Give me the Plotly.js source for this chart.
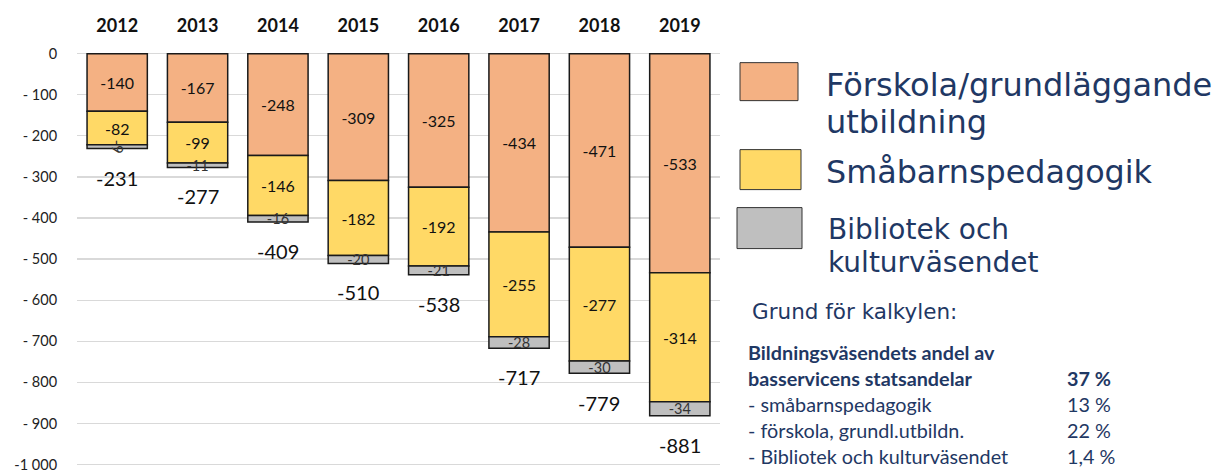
<!DOCTYPE html>
<html>
<head>
<meta charset="utf-8">
<script src="https://cdn.plot.ly/plotly-3.0.1.min.js"></script>
<style>html,body{margin:0;padding:0;background:#fff;}#chart{width:1218px;height:472px;}</style>
</head>
<body>
<div id="chart"></div>
<script>
const years = ['2012','2013','2014','2015','2016','2017','2018','2019'];
const seriesNames = ['Förskola/grundläggande<br>utbildning', 'Småbarnspedagogik', 'Bibliotek och<br>kulturväsendet'];
const forskola = [-140, -167, -248, -309, -325, -434, -471, -533];
const smabarn = [-82, -99, -146, -182, -192, -255, -277, -314];
const bibliotek = [-9, -11, -16, -20, -21, -28, -30, -34];
const totals = [-231, -277, -409, -510, -538, -717, -779, -881];
const yTickVals = [0, -100, -200, -300, -400, -500, -600, -700, -800, -900, -1000];
const yTickText = ['0', '- 100', '- 200', '- 300', '- 400', '- 500', '- 600', '- 700', '- 800', '- 900', '-1 000'];
const noteTitle = 'Grund för kalkylen:';
const noteRows = [
  ['<b>Bildningsväsendets andel av</b>', ''],
  ['<b>basservicens statsandelar</b>', '<b>37 %</b>'],
  ['- småbarnspedagogik', '13 %'],
  ['- förskola, grundl.utbildn.', '22 %'],
  ['- Bibliotek och kulturväsendet', '1,4 %']
];

const colors = ['#F4B183', '#FFD966', '#BFBFBF'];
const W = 1218, H = 472;
// pixel geometry: value 0 at y=54, value -1000 at y=465
const L = 77, R = 720;
const Y0 = 54, Y1000 = 465;
const pxPerUnit = (Y1000 - Y0) / 1000;
const yMin = -1006, yMax = 4;
const T = Y0 - yMax * pxPerUnit;
const B = Y1000 + (-1000 - yMin) * pxPerUnit;
const px = x => (x - L) / (R - L);
const py = y => (B - y) / (B - T);
const navy = '#1F3864';
const baseFont = 'Lato, "Open Sans", sans-serif';
const legendFont = '"DejaVu Sans", Verdana, sans-serif';

const seriesVals = [forskola, smabarn, bibliotek];
const traces = seriesVals.map((vals, i) => ({
  type: 'bar',
  x: years,
  y: vals,
  name: seriesNames[i].replace('<br>', ' '),
  marker: {color: colors[i], line: {color: '#1a1a1a', width: 1.5}},
  text: vals.map(v => String(v)),
  textposition: 'inside',
  insidetextanchor: 'middle',
  constraintext: 'none',
  textfont: {family: baseFont, size: i === 2 ? 14.5 : 16, color: i === 2 ? '#333' : '#111'},
  hoverinfo: 'x+y+name',
  showlegend: false,
  cliponaxis: false
}));

const annotations = [];
// totals below bars (x as category index)
years.forEach((yr, i) => {
  annotations.push({
    x: i, y: totals[i], xref: 'x', yref: 'y',
    text: String(totals[i]), showarrow: false,
    yanchor: 'middle', yshift: -29,
    font: {family: baseFont, size: 20, color: '#111'}
  });
});

// custom legend
const shapes = [];
const legendBoxes = [[740, 63, 798, 101], [740, 150, 801, 190], [737, 208, 802, 249]];
const legendLines = [[[826, 85], [826, 122]], [[826, 172]], [[828, 230], [828, 263]]];
const legendSizes = [32, 31.8, 28];
seriesNames.forEach((n, i) => {
  const b = legendBoxes[i];
  shapes.push({
    type: 'rect', xref: 'paper', yref: 'paper',
    x0: px(b[0]), x1: px(b[2]), y0: py(b[3]), y1: py(b[1]),
    fillcolor: colors[i], line: {color: '#333', width: 1}
  });
  n.split('<br>').forEach((part, k) => {
    const t = legendLines[i][k];
    annotations.push({
      xref: 'paper', yref: 'paper', x: px(t[0] - 2), y: py(t[1]),
      xanchor: 'left', yanchor: 'middle', align: 'left',
      text: part, showarrow: false,
      font: {family: legendFont, size: legendSizes[i], color: navy}
    });
  });
});

// note box
annotations.push({
  xref: 'paper', yref: 'paper', x: px(750), y: py(312),
  xanchor: 'left', yanchor: 'middle', text: noteTitle, showarrow: false,
  font: {family: legendFont, size: 21.5, color: navy}
});
noteRows.forEach((r, i) => {
  const yy = 352 + i * 26;
  annotations.push({
    xref: 'paper', yref: 'paper', x: px(746), y: py(yy),
    xanchor: 'left', yanchor: 'middle', text: r[0], showarrow: false,
    font: {family: baseFont, size: 19.8, color: navy}
  });
  if (r[1]) annotations.push({
    xref: 'paper', yref: 'paper', x: px(1065), y: py(yy),
    xanchor: 'left', yanchor: 'middle', text: r[1], showarrow: false,
    font: {family: baseFont, size: 19.8, color: navy}
  });
});

const layout = {
  width: W, height: H,
  margin: {l: L, r: W - R, t: T, b: H - B, pad: 0},
  barmode: 'relative',
  bargap: 0.25,
  paper_bgcolor: '#fff', plot_bgcolor: '#fff',
  showlegend: false,
  xaxis: {
    side: 'top', type: 'category', range: [-0.5, 7.5],
    tickfont: {family: baseFont, size: 18, color: '#111', weight: 'bold'},
    ticks: 'outside', ticklen: 12, tickcolor: 'rgba(0,0,0,0)',
    showline: false, showgrid: false, zeroline: false, fixedrange: true
  },
  yaxis: {
    range: [yMin, yMax],
    tickvals: yTickVals, ticktext: yTickText,
    tickfont: {family: baseFont, size: 14.5, color: '#222'},
    ticks: 'outside', ticklen: 16, tickcolor: 'rgba(0,0,0,0)',
    ticklabeloverflow: 'allow',
    showgrid: true, gridcolor: '#D9D9D9', gridwidth: 1.2,
    zeroline: false, showline: false, fixedrange: true
  },
  shapes: shapes,
  annotations: annotations
};

Plotly.newPlot('chart', traces, layout, {displayModeBar: false, staticPlot: true});
</script>
</body>
</html>
